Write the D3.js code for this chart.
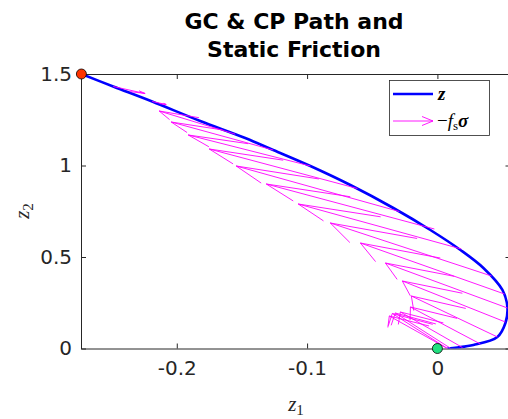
<!DOCTYPE html>
<meta charset="utf-8">
<head>
  <title>GC & CP Path and Static Friction</title>
</head>
<style>
body { margin: 0; background: #fff; }
svg text { font-family: "DejaVu Sans", "Liberation Sans", Arial, sans-serif; fill: #262626; }
.math { font-family: "Liberation Serif", "Times New Roman", serif; font-style: italic; }
.axis path, .axis line { stroke: #262626; stroke-width: 1; }
</style>
<body>
<script src="https://cdn.jsdelivr.net/npm/d3@7"></script>
<script>

// GC path z = (z1, z2)
var pathZ1 = [-0.2732, -0.2488, -0.2189, -0.1820, -0.1475, -0.1260, -0.0975, -0.0668, -0.0338, -0.0054,
              0.0177, 0.0353, 0.0499, 0.0537, 0.0522, 0.0460, 0.0276, 0.0153, 0.0077];
var pathZ2 = [1.5, 1.4317, 1.3497, 1.2432, 1.1503, 1.0847, 0.9973, 0.8934, 0.7678, 0.6475,
              0.5383, 0.4399, 0.3197, 0.2268, 0.1393, 0.0628, 0.0191, 0.0055, 0.0];

// quiver -f_s sigma : base points and vectors
var fricX = [-0.2488, -0.2189, -0.1551, -0.1260, -0.0975, -0.0614, -0.0292, -0.0023, 0.0184, 0.0415,
             0.0515, 0.0538, 0.0522, 0.0461, 0.0330, 0.0192, 0.0100, 0.0077, 0.0077];
var fricY = [1.4317, 1.3497, 1.1710, 1.0847, 0.9973, 0.8743, 0.7486, 0.6530, 0.5437, 0.3962,
             0.2978, 0.2213, 0.1448, 0.0628, 0.0246, 0.0055, 0.0016, 0.0, 0.0];
var fricU = [0.0245, 0.0108, -0.0584, -0.0783, -0.0937, -0.1137, -0.1252, -0.1290, -0.1252, -0.1237,
             -0.1106, -0.0937, -0.0791, -0.0661, -0.0537, -0.0476, -0.0423, -0.0423, -0.0446];
var fricV = [-0.0383, -0.0164, 0.1268, 0.1530, 0.1694, 0.2159, 0.2487, 0.2459, 0.2459, 0.2896,
             0.2787, 0.2459, 0.2241, 0.2241, 0.2022, 0.1940, 0.1924, 0.1913, 0.1776];

var startPt = [-0.2732, 1.5];
var endPt = [0, 0];

var xTicks = [-0.2, -0.1, 0], xTickLabels = ["-0.2", "-0.1", "0"];
var yTicks = [0, 0.5, 1, 1.5], yTickLabels = ["0", "0.5", "1", "1.5"];

var w = 508, h = 419;
var axL = 81, axR = 510.5, axT = 74, axB = 348.5;   // right edge of the box falls just outside the figure

var svg = d3.select("body").append("svg")
  .attr("width", w)
  .attr("height", h);

var x = d3.scaleLinear().domain([-0.2735, 0.0561]).range([axL, axR]);
var y = d3.scaleLinear().domain([0, 1.5]).range([axB, axT]);

svg.append("defs").append("clipPath").attr("id", "clip")
  .append("rect").attr("x", axL).attr("y", axT - 6).attr("width", axR - axL + 1).attr("height", axB - axT + 6);

// axes (box on, ticks inside)
svg.append("g").attr("class", "axis")
  .attr("transform", "translate(0," + axB + ")")
  .call(d3.axisBottom(x).tickValues(xTicks).tickFormat(function(d, i) { return xTickLabels[i]; })
    .tickSizeInner(-5).tickSizeOuter(0).tickPadding(12));
svg.append("g").attr("class", "axis")
  .attr("transform", "translate(0," + axT + ")")
  .call(d3.axisTop(x).tickValues(xTicks).tickFormat("").tickSizeInner(-5).tickSizeOuter(0));
svg.append("g").attr("class", "axis")
  .attr("transform", "translate(" + axL + ",0)")
  .call(d3.axisLeft(y).tickValues(yTicks).tickFormat(function(d, i) { return yTickLabels[i]; })
    .tickSizeInner(-5).tickSizeOuter(0).tickPadding(9));
svg.append("g").attr("class", "axis")
  .attr("transform", "translate(" + axR + ",0)")
  .call(d3.axisRight(y).tickValues(yTicks).tickFormat("").tickSizeInner(-5).tickSizeOuter(0));

svg.selectAll(".axis text")
  .style("font-family", "'DejaVu Sans', sans-serif")
  .style("font-size", "20px")
  .style("fill", "#262626");

var plot = svg.append("g").attr("clip-path", "url(#clip)");

// blue GC path
var pts = pathZ1.map(function(d, i) { return [d, pathZ2[i]]; });
plot.append("path")
  .datum(pts)
  .attr("fill", "none")
  .attr("stroke", "#0000ff")
  .attr("stroke-width", 2.6)
  .attr("d", d3.line().x(function(d) { return x(d[0]); }).y(function(d) { return y(d[1]); })
    .curve(d3.curveCatmullRom));

// quiver arrows, matlab style head computed in data units
var alpha = 0.33, beta = 0.27;
var arrows = fricX.map(function(d, i) {
  var u = fricU[i], v = fricV[i];
  var tx = d + u, ty = fricY[i] + v;
  return {
    shaft: [[d, fricY[i]], [tx, ty]],
    head: [[tx - alpha * (u + beta * v), ty - alpha * (v - beta * u)],
           [tx, ty],
           [tx - alpha * (u - beta * v), ty - alpha * (v + beta * u)]]
  };
});
var qline = d3.line().x(function(d) { return x(d[0]); }).y(function(d) { return y(d[1]); });
var q = plot.append("g").attr("fill", "none").attr("stroke", "#ff00ff").attr("stroke-width", 0.9);
q.selectAll(".shaft").data(arrows).enter().append("path")
  .attr("d", function(d) { return qline(d.shaft); });
q.selectAll(".head").data(arrows).enter().append("path")
  .attr("d", function(d) { return qline(d.head); });

// start / end markers
svg.append("circle")
  .attr("cx", x(startPt[0])).attr("cy", y(startPt[1])).attr("r", 5)
  .attr("fill", "#ff3300").attr("stroke", "#000").attr("stroke-width", 0.8);
svg.append("circle")
  .attr("cx", x(endPt[0])).attr("cy", y(endPt[1])).attr("r", 5)
  .attr("fill", "#22e080").attr("stroke", "#000").attr("stroke-width", 0.8);

// title
var title = svg.append("text")
  .attr("text-anchor", "middle")
  .style("font-size", "22px")
  .style("font-weight", "bold")
  .style("fill", "#000");
title.append("tspan").attr("x", 294).attr("y", 29).text("GC & CP Path and");
title.append("tspan").attr("x", 294).attr("y", 57).text("Static Friction");

// axis labels
var xl = svg.append("text").attr("class", "math")
  .attr("x", 296).attr("y", 411).attr("text-anchor", "middle")
  .style("font-size", "21px");
xl.append("tspan").text("z");
xl.append("tspan").attr("dy", 4).style("font-size", "15px").style("font-style", "normal").text("1");

var yl = svg.append("text").attr("class", "math")
  .attr("transform", "translate(29,211) rotate(-90)")
  .attr("text-anchor", "middle")
  .style("font-size", "21px");
yl.append("tspan").text("z");
yl.append("tspan").attr("dy", 4).style("font-size", "15px").style("font-style", "normal").text("2");

// legend
var lg = svg.append("g");
lg.append("rect")
  .attr("x", 389.5).attr("y", 80.5).attr("width", 100).attr("height", 55)
  .attr("fill", "#fff").attr("stroke", "#262626").attr("stroke-width", 0.8);
lg.append("line").attr("x1", 393).attr("x2", 433).attr("y1", 94).attr("y2", 94)
  .attr("stroke", "#0000ff").attr("stroke-width", 2.6);
lg.append("text").attr("class", "math").attr("x", 438).attr("y", 100)
  .style("font-size", "19px").style("font-weight", "bold").style("fill", "#000").text("z");
lg.append("path")
  .attr("d", "M393,121H433M422,116.5L433,121L422,125.5")
  .attr("fill", "none").attr("stroke", "#ff00ff").attr("stroke-width", 0.9);
var lt = lg.append("text").attr("class", "math").attr("x", 437).attr("y", 127)
  .style("font-size", "19px").style("fill", "#000");
lt.append("tspan").style("font-style", "normal").text("\u2212");
lt.append("tspan").text("f");
lt.append("tspan").attr("dy", 3).style("font-size", "13px").style("font-style", "normal").text("s");
lt.append("tspan").attr("dy", -3).style("font-weight", "bold").text("\u03c3");
</script>
</body>
</html>
